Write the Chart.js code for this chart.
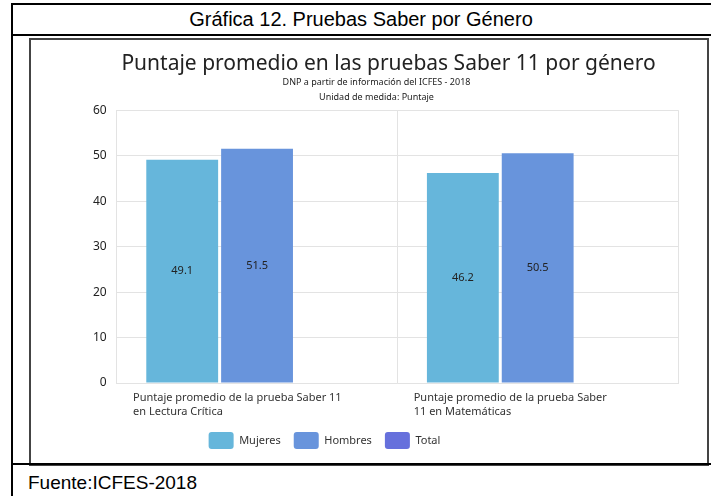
<!DOCTYPE html>
<html><head><meta charset="utf-8">
<script src="https://cdn.jsdelivr.net/npm/chart.js@4"></script>
<style>
html,body{margin:0;padding:0;background:#fff;}
body{width:711px;height:496px;position:relative;overflow:hidden;font-family:"Liberation Sans",Arial,sans-serif;}
#tbl{position:absolute;left:11px;top:3px;width:702px;height:500px;border-left:2px solid #000;border-top:2px solid #000;}
#cap{position:absolute;left:11px;top:4px;width:700px;height:30px;text-align:center;font-size:20px;line-height:30px;color:#000;}
#sep{position:absolute;left:11px;top:34px;width:702px;height:2px;background:#000;}
#box{position:absolute;left:29px;top:38px;width:676px;height:424px;border:2px solid #444;}
#bot{position:absolute;left:11px;top:463px;width:702px;height:2px;background:#000;}
#src{position:absolute;left:28px;top:471px;font-size:19px;line-height:24px;color:#000;}
#wrap{position:absolute;left:31px;top:40px;width:676px;height:427px;}
</style></head>
<body>
<div id="tbl"></div>
<div id="cap">Gráfica 12. Pruebas Saber por Género</div>
<div id="sep"></div>
<div id="box"></div>
<div id="bot"></div>
<div id="src">Fuente:ICFES-2018</div>
<div id="wrap"><canvas id="c" width="676" height="427"></canvas></div>
<script>
const categories = [
  ["Puntaje promedio de la prueba Saber 11", "en Lectura Crítica"],
  ["Puntaje promedio de la prueba Saber", "11 en Matemáticas"]
];
const seriesNames = ["Mujeres", "Hombres", "Total"];
const mujeres = [49.1, 46.2];
const hombres = [51.5, 50.5];
const total = [null, null];
const yTicks = [0, 10, 20, 30, 40, 50, 60];
const colors = ["#66b6db", "#6894dc", "#6670dc"];
const FONT = '"Noto Sans", "Open Sans", sans-serif';

const valueLabels = {
  id: 'valueLabels',
  afterDatasetsDraw(chart) {
    const ctx = chart.ctx;
    ctx.save();
    ctx.font = '11px ' + FONT;
    ctx.fillStyle = '#222';
    ctx.textAlign = 'center';
    ctx.textBaseline = 'middle';
    chart.data.datasets.forEach((ds, di) => {
      const meta = chart.getDatasetMeta(di);
      meta.data.forEach((bar, i) => {
        const v = ds.data[i];
        if (v == null) return;
        ctx.fillText(v.toFixed(1), bar.x, (bar.y + bar.base) / 2);
      });
    });
    ctx.restore();
  }
};

// small block offsets (legend, title, subtitle) to follow the reference layout
const blockShift = {
  id: 'blockShift',
  beforeDraw(chart) {
    const move = (b, dx, dy) => {
      if (!b || b._shifted) return;
      b.left += dx; b.right += dx; b.top += dy; b.bottom += dy; b._shifted = true;
    };
    move(chart.legend, -56, -8);
    (chart.boxes || []).forEach(b => {
      if (b && b.options && b.options.text !== undefined && b !== chart.legend) {
        if (Array.isArray(b.options.text)) move(b, -4, 0);
        else move(b, 8, 0);
      }
    });
  }
};

new Chart(document.getElementById('c'), {
  type: 'bar',
  data: {
    labels: categories,
    datasets: [
      {label: seriesNames[0], data: mujeres, backgroundColor: colors[0]},
      {label: seriesNames[1], data: hombres, backgroundColor: colors[1]},
      {label: seriesNames[2], data: total, backgroundColor: colors[2]}
    ]
  },
  options: {
    responsive: false,
    animation: false,
    devicePixelRatio: 1,
    layout: {padding: {left: 52, right: 29, top: 0, bottom: 0}},
    datasets: {bar: {categoryPercentage: 0.8, barPercentage: 0.96}},
    plugins: {
      title: {display: true, text: 'Puntaje promedio en las pruebas Saber 11 por género',
        color: '#222', font: {family: FONT, size: 21, weight: 'normal', lineHeight: 1.1},
        padding: {top: 12, bottom: 0}},
      subtitle: {display: true, text: ['DNP a partir de información del ICFES - 2018', 'Unidad de medida: Puntaje'],
        color: '#222', font: {family: FONT, size: 9, lineHeight: 1.67}, padding: {top: 0, bottom: 5}},
      legend: {position: 'bottom', labels: {boxWidth: 25, boxHeight: 17, useBorderRadius: true, borderRadius: 3,
        padding: 13, color: '#333', font: {family: FONT, size: 11}}},
      tooltip: {enabled: false}
    },
    scales: {
      y: {min: 0, max: 60, afterBuildTicks: s => { s.ticks = yTicks.map(v => ({value: v})); },
        grid: {color: '#e3e3e3', drawTicks: false}, border: {color: '#e3e3e3'},
        ticks: {padding: 10, color: '#222', font: {family: FONT, size: 12}}},
      x: {grid: {color: '#e3e3e3', drawTicks: false, offset: true}, border: {color: '#e3e3e3'},
        afterFit: s => { s.paddingLeft = 0; s.paddingRight = 0; },
        ticks: {align: 'start', labelOffset: -124, padding: 8, maxRotation: 0, color: '#333',
          font: {family: FONT, size: 11, lineHeight: 1.27}}}
    }
  },
  plugins: [valueLabels, blockShift]
});
</script>
</body></html>
